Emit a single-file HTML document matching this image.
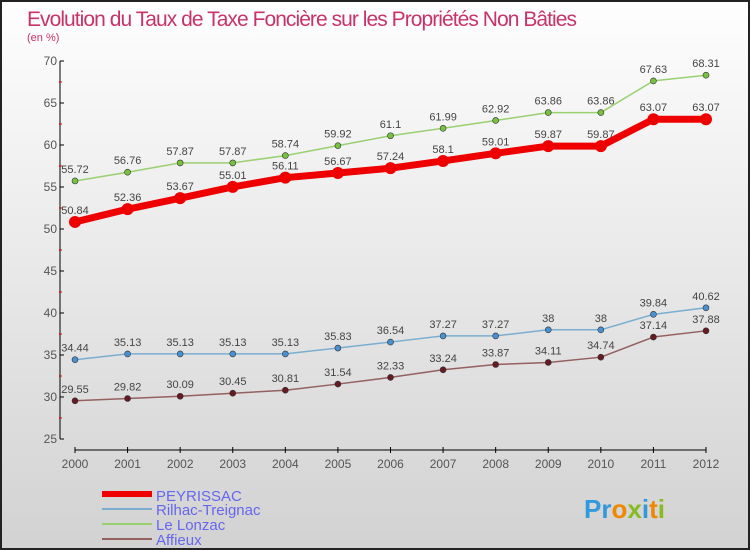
<!DOCTYPE html>
<html><head><meta charset="utf-8"><style>
html,body{margin:0;padding:0}
body{width:750px;height:550px;overflow:hidden;font-family:"Liberation Sans",sans-serif}
#wrap{position:absolute;left:0;top:0;width:746px;height:546px;border:2px solid #222;background:linear-gradient(#fefefe,#d2d2d2)}
</style></head><body>
<div id="wrap">
<svg id="chart" width="746" height="546" style="position:absolute;left:0;top:0">
<text x="25" y="24" font-size="21" fill="#c8336a" style="font-family:'Liberation Sans',sans-serif" transform="translate(0,0)" textLength="550">Evolution du Taux de Taxe Foncière sur les Propriétés Non Bâties</text>
<text x="25" y="39" font-size="11" fill="#c8336a">(en %)</text>
<g id="axes"></g><g id="series"></g>
<g>
<line x1="100" y1="492" x2="150" y2="492" stroke="#e00" stroke-width="6"/>
<text x="154" y="499" font-size="15" fill="#6666ee">PEYRISSAC</text>
<line x1="100" y1="507" x2="150" y2="507" stroke="#7aaed0" stroke-width="2"/>
<text x="154" y="513" font-size="15" fill="#6666ee">Rilhac-Treignac</text>
<line x1="100" y1="522" x2="150" y2="522" stroke="#99d070" stroke-width="2"/>
<text x="154" y="528" font-size="15" fill="#6666ee">Le Lonzac</text>
<line x1="100" y1="537" x2="150" y2="537" stroke="#946060" stroke-width="2"/>
<text x="154" y="543" font-size="15" fill="#6666ee">Affieux</text>
</g>
<text x="582" y="516" font-size="26" font-weight="bold"><tspan fill="#3399dd">Pr</tspan><tspan fill="#ee8800">o</tspan><tspan fill="#88bb22">x</tspan><tspan fill="#3399dd">i</tspan><tspan fill="#ee8800">t</tspan><tspan fill="#88bb22">i</tspan></text>
</svg></div>
<script>
const years=["2000","2001","2002","2003","2004","2005","2006","2007","2008","2009","2010","2011","2012"];
const yTicks=[25,30,35,40,45,50,55,60,65,70];
const peyrissac=[50.84,52.36,53.67,55.01,56.11,56.67,57.24,58.1,59.01,59.87,59.87,63.07,63.07];
const rilhac=[34.44,35.13,35.13,35.13,35.13,35.83,36.54,37.27,37.27,38,38,39.84,40.62];
const lonzac=[55.72,56.76,57.87,57.87,58.74,59.92,61.1,61.99,62.92,63.86,63.86,67.63,68.31];
const affieux=[29.55,29.82,30.09,30.45,30.81,31.54,32.33,33.24,33.87,34.11,34.74,37.14,37.88];
const NS="http://www.w3.org/2000/svg";
function X(i){return 73+i*(704-73)/(years.length-1);}
function Y(v){return 437-(v-25)*(378/45);}
function mk(t,a,p){const e=document.createElementNS(NS,t);for(const k in a)e.setAttribute(k,a[k]);p.appendChild(e);return e;}
const ax=document.getElementById('axes');
const yl=mk('line',{x1:58,y1:Y(70),x2:58,y2:Y(25),stroke:'#000'},ax);


yTicks.forEach(v=>{
 mk('line',{x1:58,y1:Y(v),x2:62,y2:Y(v),stroke:'#000'},ax);
 if(v<70){const m=mk('line',{x1:57,y1:Y(v+2.5),x2:60,y2:Y(v+2.5),stroke:'#d00'},ax);}
 const t=mk('text',{x:55,y:Y(v)+4,'font-size':12,fill:'#555','text-anchor':'end'},ax);t.textContent=v;
 
 
});
const xl=mk('line',{x1:X(0),y1:448,x2:X(12),y2:448,stroke:'#000'},ax);


years.forEach((y,i)=>{
 mk('line',{x1:X(i),y1:445,x2:X(i),y2:451,stroke:'#000'},ax);
 const t=mk('text',{x:X(i),y:466,'font-size':12,fill:'#555','text-anchor':'middle'},ax);t.textContent=y;
 
 
});
const sg=document.getElementById('series');
function draw(name,arr,color,w,dot,r){
 const p=mk('polyline',{points:arr.map((v,i)=>X(i)+','+Y(v)).join(' '),fill:'none',stroke:color,'stroke-width':w,'stroke-linejoin':'round','stroke-linecap':'round'},sg);
 
 
 arr.forEach((v,i)=>{
  const c=mk('circle',{cx:X(i),cy:Y(v),r:r,fill:dot,stroke:'#333','stroke-width':r>4?0:0.6},sg);
  
  
  const t=mk('text',{x:X(i),y:Y(v)-8,'font-size':11,fill:'#444','text-anchor':'middle'},sg);t.textContent=v;
  
  
 });
}
draw('lonzac',lonzac,'#99d070',1.5,'#77c040',3);
draw('rilhac',rilhac,'#7aaed0',1.5,'#4a90d0',3);
draw('affieux',affieux,'#946060',1.5,'#661a22',3);
draw('peyrissac',peyrissac,'#ee0000',7,'#ee0000',6);
</script>
</body></html>
